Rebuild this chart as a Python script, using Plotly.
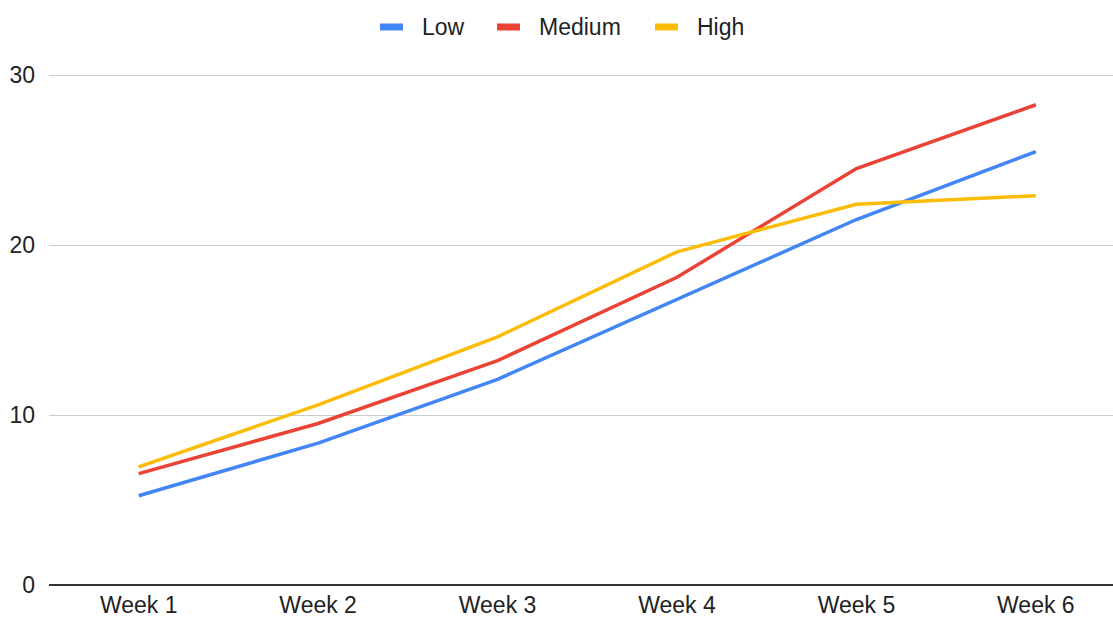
import plotly.graph_objects as go

# Weekly measurements for three intensity groups
weeks = ["Week 1", "Week 2", "Week 3", "Week 4", "Week 5", "Week 6"]
low = [5.25, 8.35, 12.1, 16.8, 21.5, 25.5]
medium = [6.55, 9.5, 13.2, 18.1, 24.5, 28.25]
high = [6.95, 10.6, 14.6, 19.6, 22.4, 22.9]
y_ticks = [0, 10, 20, 30]

series_names = ["Low", "Medium", "High"]
series_values = [low, medium, high]
series_colors = ["#4285F4", "#EA4335", "#FBBC04"]

W, H = 1113, 617
ML, MR, MT, MB = 49, 0, 74, 32
plot_w = W - ML - MR
plot_h = H - MT - MB

FONT = "Liberation Sans, Arial, sans-serif"
FONT_SIZE = 23
TEXT_COLOR = "#222222"

fig = go.Figure()
for name, vals, color in zip(series_names, series_values, series_colors):
    fig.add_trace(go.Scatter(
        x=weeks, y=vals, name=name, mode="lines",
        line=dict(color=color, width=3.5),
        showlegend=False,
    ))

# Legend along the top: colored swatch followed by the series name
def px_to_paper_x(px):
    return (px - ML) / plot_w

def px_to_paper_y(py):
    return (H - MB - py) / plot_h

legend_starts = [380, 497, 655]
swatch_w, gap = 23, 17
for name, color, x0 in zip(series_names, series_colors, legend_starts):
    fig.add_shape(
        type="rect", xref="paper", yref="paper",
        x0=px_to_paper_x(x0), x1=px_to_paper_x(x0 + swatch_w),
        y0=px_to_paper_y(30.5), y1=px_to_paper_y(23.5),
        fillcolor=color, line=dict(width=0),
    )
    fig.add_annotation(
        text=name, xref="paper", yref="paper",
        x=px_to_paper_x(x0 + swatch_w + gap), y=px_to_paper_y(27),
        xanchor="left", yanchor="middle", showarrow=False,
        font=dict(family=FONT, size=FONT_SIZE, color=TEXT_COLOR),
    )

fig.update_layout(
    width=W, height=H,
    margin=dict(l=ML, r=MR, t=MT, b=MB, pad=0, autoexpand=False),
    paper_bgcolor="white", plot_bgcolor="white",
    showlegend=False,
    font=dict(family=FONT, size=FONT_SIZE, color=TEXT_COLOR),
    xaxis=dict(
        type="category", range=[-0.5, 5.43], automargin=False,
        showgrid=False, zeroline=False, showline=False,
        ticks="", ticklabelstandoff=4,
        tickfont=dict(family=FONT, size=FONT_SIZE, color=TEXT_COLOR),
    ),
    yaxis=dict(
        range=[0, 30.06], tickvals=y_ticks, automargin=False,
        showgrid=True, gridcolor="#CCCCCC", gridwidth=1,
        zeroline=True, zerolinecolor="#333333", zerolinewidth=2,
        showline=False, ticks="", ticklabelstandoff=13,
        tickfont=dict(family=FONT, size=FONT_SIZE, color=TEXT_COLOR),
    ),
)

fig.write_html("out.html")
